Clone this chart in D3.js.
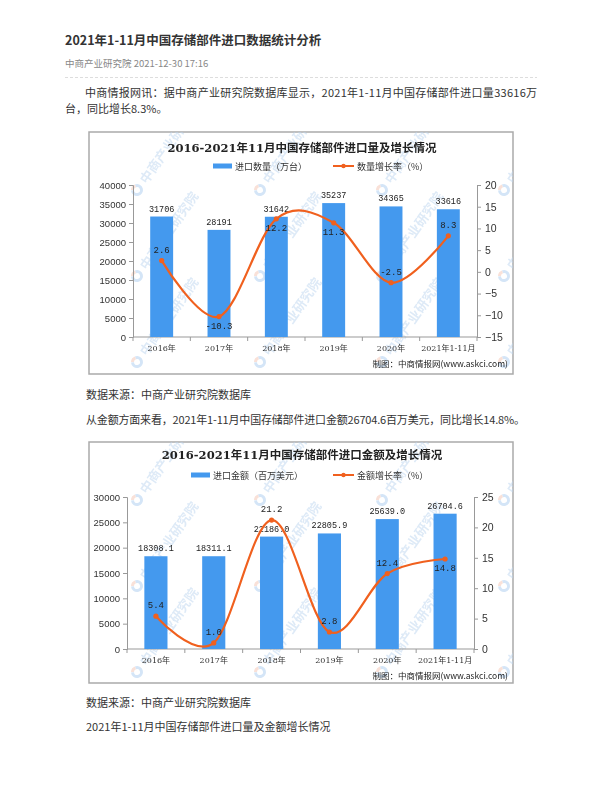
<!DOCTYPE html>
<html lang="zh">
<head>
<meta charset="utf-8">
<title>2021年1-11月中国存储部件进口数据统计分析</title>
<script src="https://cdn.jsdelivr.net/npm/d3@7"></script>
<style>
  body { margin: 0; background: #fff; }
  svg { display: block; }
  .page { font-family: "Noto Sans CJK SC", "DejaVu Sans", sans-serif; fill: #333; }
  .ctitle { font-family: "DejaVu Serif", "Noto Sans CJK SC", serif; font-weight: bold; fill: #222; }
  .tick text { font-family: "Liberation Sans", "Noto Sans CJK SC", sans-serif; fill: #333; }
  .axis path, .axis line { stroke: #999; }
  .lbl { font-family: "Liberation Mono", "Noto Sans CJK SC", monospace; fill: #222; }
  .wm { font-family: "Noto Sans CJK SC", sans-serif; font-weight: bold; fill: #bcd5ef; }
</style>
</head>
<body>
<script>
// ---- data ----
var categories = ["2016年", "2017年", "2018年", "2019年", "2020年", "2021年1-11月"];

var qtyValues  = [31706, 28191, 31642, 35237, 34365, 33616];   // 万台
var qtyGrowth  = [2.6, -10.3, 12.2, 11.3, -2.5, 8.3];          // %
var qtyLabelPos = ["up", "down", "down", "down", "up", "up"];

var amtValues  = [18308.1, 18311.1, 22186.0, 22805.9, 25639.0, 26704.6]; // 百万美元
var amtGrowth  = [5.4, 1.0, 21.2, 2.8, 12.4, 14.8];                       // %
var amtLabelPos = ["up", "up", "up", "up", "up", "down"];

var blue = "#4499ee", orange = "#f0601e";

var svg = d3.select("body").append("svg")
  .attr("width", 600).attr("height", 800);

// ---- article text ----
var page = svg.append("g").attr("class", "page");
page.append("text").attr("x", 65).attr("y", 44.5)
  .style("font-size", "12.5px").style("font-weight", "bold")
  .text("2021年1-11月中国存储部件进口数据统计分析");
page.append("text").attr("x", 65).attr("y", 66.5)
  .style("font-size", "9.5px").style("fill", "#888")
  .text("中商产业研究院 2021-12-30 17:16");
page.append("line").attr("x1", 65).attr("x2", 537).attr("y1", 77.5).attr("y2", 77.5)
  .attr("stroke", "#ddd").attr("stroke-dasharray", "3,2");
page.append("text").attr("x", 85).attr("y", 97).style("font-size", "11px")
  .attr("textLength", 452).attr("lengthAdjust", "spacing")
  .text("中商情报网讯：据中商产业研究院数据库显示，2021年1-11月中国存储部件进口量33616万");
page.append("text").attr("x", 65).attr("y", 113).style("font-size", "11px")
  .text("台，同比增长8.3%。");
page.append("text").attr("x", 86).attr("y", 399).style("font-size", "11px")
  .text("数据来源：中商产业研究院数据库");
page.append("text").attr("x", 86).attr("y", 424).style("font-size", "11px")
  .attr("textLength", 439).attr("lengthAdjust", "spacing")
  .text("从金额方面来看，2021年1-11月中国存储部件进口金额26704.6百万美元，同比增长14.8%。");
page.append("text").attr("x", 86).attr("y", 707).style("font-size", "11px")
  .text("数据来源：中商产业研究院数据库");
page.append("text").attr("x", 86).attr("y", 731).style("font-size", "11px")
  .text("2021年1-11月中国存储部件进口量及金额增长情况");

// ---- charts ----
function drawChart(c) {
  var g = svg.append("g");

  g.append("rect").attr("x", c.box[0]).attr("y", c.box[1])
    .attr("width", c.box[2]).attr("height", c.box[3])
    .attr("fill", "#fff").attr("stroke", "#aaa").attr("stroke-width", 1.5);

  // faint watermark (under the marks)
  var clipId = "clip" + c.box[1];
  g.append("clipPath").attr("id", clipId).append("rect")
    .attr("x", c.box[0]).attr("y", c.box[1]).attr("width", c.box[2]).attr("height", c.box[3]);
  var wm = g.append("g").attr("clip-path", "url(#" + clipId + ")").attr("opacity", 0.5);
  [0, 1, 2].forEach(function (r) {
    [137, 260, 382, 504].forEach(function (wx) {
      var wy = c.box[1] + 58 + r * 86;
      var w = wm.append("g").attr("transform", "translate(" + wx + "," + wy + ") rotate(-55)");
      w.append("path").attr("d", d3.arc()({ innerRadius: 3, outerRadius: 6, startAngle: 0.6, endAngle: 5.6 }))
        .attr("fill", "#a9cbee");
      w.append("path").attr("d", d3.arc()({ innerRadius: 3, outerRadius: 6, startAngle: -0.6, endAngle: 0.6 }))
        .attr("fill", "#f3c2b0");
      w.append("text").attr("class", "wm").attr("x", 10).attr("y", 5)
        .style("font-size", "13px").text("中商产业研究院");
    });
  });

  g.append("text").attr("class", "ctitle")
    .attr("x", 302).attr("y", c.titleY).attr("text-anchor", "middle")
    .style("font-size", "11.5px").text(c.title);

  // legend
  var lg = g.append("g").style("font-family", "\"Noto Sans CJK SC\", sans-serif")
    .style("font-size", "9px");
  lg.append("rect").attr("x", c.legX).attr("y", c.legY - 2.5)
    .attr("width", 19).attr("height", 5).attr("fill", blue);
  lg.append("text").attr("x", c.legX + 22).attr("y", c.legY + 3.5).attr("fill", "#333")
    .text(c.barName);
  lg.append("line").attr("x1", 333).attr("x2", 354).attr("y1", c.legY).attr("y2", c.legY)
    .attr("stroke", orange).attr("stroke-width", 2);
  lg.append("circle").attr("cx", 343.5).attr("cy", c.legY).attr("r", 2.2).attr("fill", orange);
  lg.append("text").attr("x", 357).attr("y", c.legY + 3.5).attr("fill", "#333")
    .text(c.lineName);

  var x = d3.scaleBand().domain(categories).range(c.xRange)
    .paddingInner(0.6).paddingOuter(0.3);
  var yL = d3.scaleLinear().domain(c.leftDomain).range([c.bottom, c.top]);
  var yR = d3.scaleLinear().domain(c.rightDomain).range([c.bottom, c.top]);

  // axes
  var ax = g.append("g").attr("class", "axis");
  ax.append("g").attr("transform", "translate(" + c.xRange[0] + ",0)")
    .call(d3.axisLeft(yL).tickValues(d3.range(c.leftDomain[0], c.leftDomain[1] + 1, c.leftStep))
      .tickSize(4).tickPadding(3).tickFormat(d3.format("d")))
    .call(function (s) { s.selectAll(".tick text").style("font-size", "9.5px"); });
  ax.append("g").attr("transform", "translate(" + c.xRange[1] + ",0)")
    .call(d3.axisRight(yR).tickValues(d3.range(c.rightDomain[0], c.rightDomain[1] + 1, 5))
      .tickSize(4).tickPadding(4).tickFormat(function (d) { return d < 0 ? "\u2212" + (-d) : d; }))
    .call(function (s) { s.selectAll(".tick text").style("font-size", "10.5px"); });

  // category axis: baseline + ticks between categories
  var xa = g.append("g").attr("class", "axis");
  xa.append("line").attr("x1", c.xRange[0]).attr("x2", c.xRange[1])
    .attr("y1", c.bottom).attr("y2", c.bottom).attr("stroke", "#999");
  var step = x.step();
  xa.selectAll(".sep").data(d3.range(categories.length + 1)).enter().append("line")
    .attr("x1", function (i) { return c.xRange[0] + i * step; })
    .attr("x2", function (i) { return c.xRange[0] + i * step; })
    .attr("y1", c.bottom).attr("y2", c.bottom + 4).attr("stroke", "#999");
  xa.selectAll(".cat").data(categories).enter().append("text")
    .attr("x", function (d) { return x(d) + x.bandwidth() / 2; })
    .attr("y", c.bottom + 14).attr("text-anchor", "middle")
    .style("font-family", "\"DejaVu Serif\", \"Noto Sans CJK SC\", serif")
    .style("font-size", "8px").attr("fill", "#333")
    .text(function (d) { return d; });

  // bars
  g.selectAll(".bar").data(c.bars).enter().append("rect")
    .attr("x", function (d, i) { return x(categories[i]); })
    .attr("width", x.bandwidth())
    .attr("y", function (d) { return yL(d); })
    .attr("height", function (d) { return c.bottom - yL(d); })
    .attr("fill", blue);

  g.selectAll(".blbl").data(c.bars).enter().append("text").attr("class", "lbl")
    .attr("x", function (d, i) { return x(categories[i]) + x.bandwidth() / 2; })
    .attr("y", function (d) { return yL(d) - 5; })
    .attr("text-anchor", "middle").style("font-size", "8.5px")
    .text(function (d) { return c.barFmt(d); });

  // growth line
  var pts = c.line.map(function (v, i) {
    return [x(categories[i]) + x.bandwidth() / 2, yR(v)];
  });
  g.append("path").attr("d", d3.line().curve(d3.curveCardinal.tension(0))(pts))
    .attr("fill", "none").attr("stroke", orange).attr("stroke-width", 2.2);
  g.selectAll(".dot").data(pts).enter().append("circle")
    .attr("cx", function (d) { return d[0]; }).attr("cy", function (d) { return d[1]; })
    .attr("r", 2.6).attr("fill", orange);
  g.selectAll(".llbl").data(c.line).enter().append("text").attr("class", "lbl")
    .attr("x", function (d, i) { return pts[i][0]; })
    .attr("y", function (d, i) { return pts[i][1] + (c.pos[i] === "up" ? -8 : 12); })
    .attr("text-anchor", "middle").style("font-size", "9px")
    .text(function (d) { return d.toFixed(1); });

  g.append("text").attr("x", 508).attr("y", c.bottom + 30).attr("text-anchor", "end")
    .style("font-family", "\"Noto Sans CJK SC\", sans-serif").style("font-size", "8.5px")
    .attr("fill", "#222").text("制图：中商情报网(www.askci.com)");
}

drawChart({
  box: [89, 132, 424, 242], titleY: 152, legY: 166,
  title: "2016-2021年11月中国存储部件进口量及增长情况",
  barName: "进口数量（万台）", lineName: "数量增长率（%）", legX: 213,
  xRange: [133, 477], top: 185, bottom: 337,
  leftDomain: [0, 40000], leftStep: 5000, rightDomain: [-15, 20],
  bars: qtyValues, line: qtyGrowth, pos: qtyLabelPos,
  barFmt: function (d) { return d3.format("d")(d); }
});

drawChart({
  box: [89, 442, 424, 241], titleY: 459, legY: 475,
  title: "2016-2021年11月中国存储部件进口金额及增长情况",
  barName: "进口金额（百万美元）", lineName: "金额增长率（%）", legX: 191,
  xRange: [127, 474], top: 497, bottom: 649,
  leftDomain: [0, 30000], leftStep: 5000, rightDomain: [0, 25],
  bars: amtValues, line: amtGrowth, pos: amtLabelPos,
  barFmt: function (d) { return d.toFixed(1); }
});
</script>
</body>
</html>
